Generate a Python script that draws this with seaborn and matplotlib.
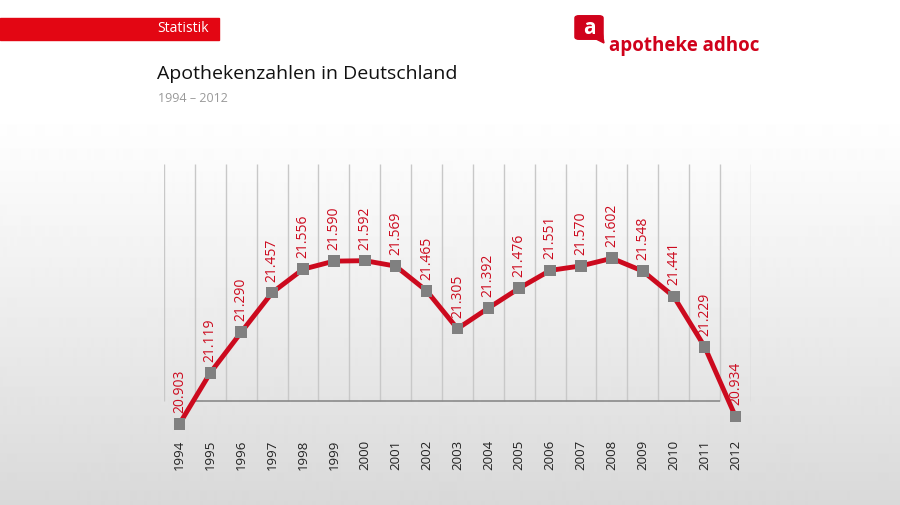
import numpy as np
import pandas as pd
import matplotlib.pyplot as plt
import seaborn as sns
from matplotlib.patches import FancyBboxPatch, Polygon

# Apothekenzahlen 1994-2012
jahre = [str(j) for j in range(1994, 2013)]
apotheken = [20903, 21119, 21290, 21457, 21556, 21590, 21592, 21569, 21465, 21305,
             21392, 21476, 21551, 21570, 21602, 21548, 21441, 21229, 20934]
labels = ['20.903', '21.119', '21.290', '21.457', '21.556', '21.590', '21.592', '21.569', '21.465', '21.305',
          '21.392', '21.476', '21.551', '21.570', '21.602', '21.548', '21.441', '21.229', '20.934']

rot = '#cc0a1e'
df = pd.DataFrame({'jahr': jahre, 'anzahl': apotheken, 'label': labels})

sns.set_theme(style='white')
plt.rcParams['font.family'] = ['Open Sans', 'DejaVu Sans']

fig = plt.figure(figsize=(9, 5.05), dpi=100)

# hintergrund verlauf (oben weiss, unten hellgrau)
bg = fig.add_axes([0, 0, 1, 1], zorder=0)
grad = np.concatenate([np.ones(110), 1 - 0.15 * np.linspace(0, 1, 395) ** 1.1])
bg.imshow(grad[:, None], aspect='auto', cmap='gray', vmin=0, vmax=1, extent=[0, 1, 0, 1],
          interpolation='bilinear')
bg.set_axis_off()

ax = fig.add_axes([0.1822, 0.1450, 0.6522, 0.5772], zorder=1)
ax.patch.set_alpha(0)

# vertikale linien zwischen den jahren
ax.vlines(np.arange(-0.5, len(jahre), 1), 21000, 22000, color='#c8c8c8', lw=1, zorder=1)
ax.hlines(21000, 0.5, len(jahre) - 1.5, color='#8a8a8a', lw=1.2, zorder=1)

sns.lineplot(data=df, x='jahr', y='anzahl', ax=ax, color=rot, lw=3.5, zorder=3, sort=False)
sns.scatterplot(data=df, x='jahr', y='anzahl', ax=ax, marker='s', s=70, color='#808080',
                edgecolor='none', zorder=4)

for i, row in df.iterrows():
    ax.annotate(row['label'], (i, row['anzahl']), xytext=(0, 8), textcoords='offset points',
                rotation=90, ha='center', va='bottom', color=rot, fontsize=10)

ax.set_xlim(-0.5, len(jahre) - 0.5)
ax.set_ylim(20870, 22100)
ax.set_yticks([])
ax.set_xlabel('')
ax.set_ylabel('')
ax.tick_params(axis='x', length=0, pad=6, labelsize=9.5, labelcolor='#222222')
plt.setp(ax.get_xticklabels(), rotation=90, va='top')
for s in ax.spines.values():
    s.set_visible(False)

# kopfbereich
fig.patches.append(plt.Rectangle((0, 1 - 40 / 505), 219 / 900, 22 / 505, transform=fig.transFigure,
                                 color='#e30613', zorder=2))
fig.text(209 / 900, 1 - 29 / 505, 'Statistik', color='white', fontsize=10, ha='right', va='center')
fig.text(157 / 900, 1 - 74 / 505, 'Apothekenzahlen in Deutschland', color='#111111', fontsize=14,
         fontweight='medium', ha='left', va='center')
fig.text(158 / 900, 1 - 98 / 505, '1994 – 2012', color='#999999', fontsize=9, ha='left', va='center')

# logo
bubble = FancyBboxPatch((579 / 900, 1 - 37 / 505), 20 / 900, 19 / 505, boxstyle='round,pad=0.0045',
                        transform=fig.transFigure, color='#d0021b', zorder=2)
fig.patches.append(bubble)
fig.patches.append(Polygon([(594 / 900, 1 - 38 / 505), (604 / 900, 1 - 43 / 505), (602 / 900, 1 - 32 / 505)],
                           closed=True, transform=fig.transFigure, color='#d0021b', zorder=2))
fig.text(589 / 900, 1 - 28 / 505, 'a', color='white', fontsize=15, fontweight='bold',
         ha='center', va='center', zorder=3)
fig.text(609 / 900, 1 - 51 / 505, 'apotheke adhoc', color='#d0021b', fontsize=13.5, fontweight='bold',
         ha='left', va='baseline')

fig.savefig('out.png', dpi=100)
